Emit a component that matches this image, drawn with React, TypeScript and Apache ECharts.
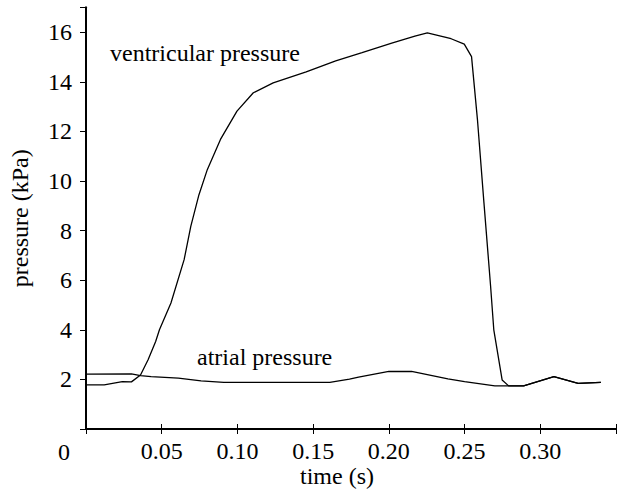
import React, { useEffect, useRef } from "react";
import * as echarts from "echarts";

// time (s)
const ventricularTime = [0.0, 0.012, 0.024, 0.030, 0.036, 0.041, 0.046, 0.0485, 0.0561, 0.0648, 0.0692, 0.0746, 0.0801, 0.0888, 0.0997, 0.1105, 0.1236, 0.1454, 0.1649, 0.1823, 0.2019, 0.2172, 0.2254, 0.2411, 0.2498, 0.2546, 0.2585, 0.2628, 0.2672, 0.2693, 0.2748, 0.2791, 0.289, 0.309, 0.325, 0.340];
// pressure (kPa)
const ventricularPressure = [1.78, 1.78, 1.91, 1.90, 2.18, 2.79, 3.53, 4.0, 5.08, 6.83, 8.17, 9.45, 10.46, 11.68, 12.82, 13.56, 13.96, 14.4, 14.85, 15.18, 15.56, 15.85, 15.98, 15.74, 15.52, 15.02, 12.48, 9.12, 5.75, 4.0, 1.98, 1.74, 1.74, 2.11, 1.84, 1.88];

const atrialTime = [0.0, 0.030, 0.036, 0.043, 0.061, 0.076, 0.091, 0.161, 0.174, 0.180, 0.200, 0.215, 0.239, 0.250, 0.270, 0.289, 0.309, 0.325, 0.340];
const atrialPressure = [2.21, 2.22, 2.15, 2.11, 2.05, 1.94, 1.88, 1.88, 2.01, 2.09, 2.32, 2.32, 2.02, 1.91, 1.74, 1.74, 2.11, 1.84, 1.88];

const xTicks = ["0.05", "0.10", "0.15", "0.20", "0.25", "0.30"];
const yTicks = ["2", "4", "6", "8", "10", "12", "14", "16"];

const FONT = "Liberation Serif";

export default function App() {
  const ref = useRef<HTMLDivElement>(null);
  useEffect(() => {
    if (!ref.current) return;
    const chart = echarts.init(ref.current, null, { renderer: "svg" });
    const pair = (t: number[], p: number[]) => t.map((v, i) => [v, p[i]]);
    const xFmt = (v: number) => {
      const s = v.toFixed(2);
      return xTicks.includes(s) ? s : "";
    };
    const yFmt = (v: number) => {
      const s = String(Math.round(v));
      return yTicks.includes(s) ? s : "";
    };
    const lineStyle = { color: "#000", width: 2 };
    const txt = (text: string, x: number, y: number, align: string) => ({
      type: "text",
      x,
      y,
      style: {
        text,
        fill: "#000",
        fontFamily: FONT,
        fontSize: 24,
        textAlign: align,
        textVerticalAlign: "middle",
      },
    });
    chart.setOption({
      animation: false,
      backgroundColor: "#fff",
      grid: { left: 84, right: -1, top: 7.5, bottom: 63, containLabel: false },
      xAxis: [
        {
          type: "value",
          position: "bottom",
          min: 0,
          max: 0.35,
          interval: 0.05,
          splitLine: { show: false },
          axisLine: { show: true, lineStyle },
          axisTick: { show: true, inside: true, length: 5, lineStyle: { color: "#000", width: 1 } },
          axisLabel: {
            formatter: xFmt,
            color: "#000",
            fontFamily: FONT,
            fontSize: 24,
            margin: 10,
            showMinLabel: true,
            showMaxLabel: true,
          },
        },
        {
          type: "value",
          position: "top",
          min: 0,
          max: 0.35,
          interval: 0.05,
          splitLine: { show: false },
          axisLine: { show: true, lineStyle },
          axisTick: { show: true, inside: true, length: 5, lineStyle: { color: "#000", width: 1 } },
          axisLabel: { show: false },
        },
      ],
      yAxis: [
        {
          type: "value",
          position: "left",
          min: 0,
          max: 17,
          interval: 2,
          splitLine: { show: false },
          axisLine: { show: true, lineStyle },
          axisTick: { show: true, inside: false, length: 6, lineStyle: { color: "#000", width: 1 } },
          axisLabel: {
            formatter: yFmt,
            color: "#000",
            fontFamily: FONT,
            fontSize: 24,
            margin: 14,
          },
          name: "pressure (kPa)",
          nameLocation: "middle",
          nameGap: 54,
          nameRotate: 90,
          nameTextStyle: { color: "#000", fontFamily: FONT, fontSize: 24 },
        },
        {
          type: "value",
          position: "right",
          min: 0,
          max: 17,
          interval: 2,
          splitLine: { show: false },
          axisLine: { show: true, lineStyle },
          axisTick: { show: true, inside: true, length: 6, lineStyle: { color: "#000", width: 1 } },
          axisLabel: { show: false },
        },
      ],
      graphic: [
        txt("0", 64, 452, "center"),
        txt("time (s)", 337, 476, "center"),
        txt("ventricular pressure", 110, 53, "left"),
        txt("atrial pressure", 197, 357, "left"),
      ],
      series: [
        {
          name: "ventricular pressure",
          type: "line",
          xAxisIndex: 0,
          yAxisIndex: 0,
          data: pair(ventricularTime, ventricularPressure),
          showSymbol: false,
          lineStyle: { color: "#000", width: 1.3 },
        },
        {
          name: "atrial pressure",
          type: "line",
          xAxisIndex: 0,
          yAxisIndex: 0,
          data: pair(atrialTime, atrialPressure),
          showSymbol: false,
          lineStyle: { color: "#000", width: 1.3 },
        },
      ],
    });
    return () => chart.dispose();
  }, []);
  return (
    <div
      ref={ref}
      style={{ position: "fixed", left: 0, top: 0, width: 619, height: 492, background: "#fff" }}
    />
  );
}
